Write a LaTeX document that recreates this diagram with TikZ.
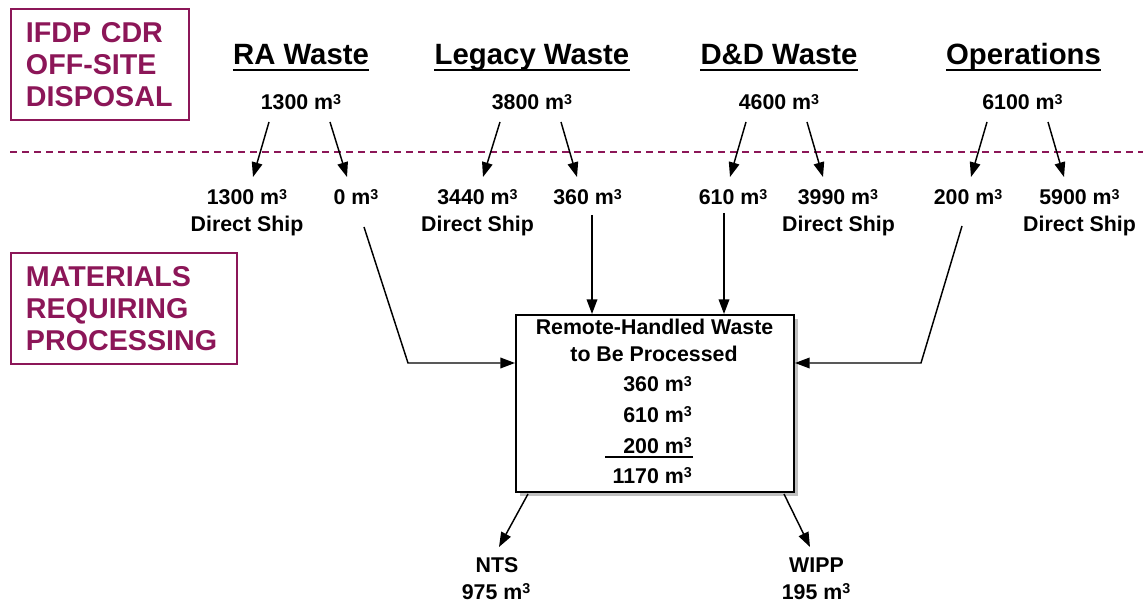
\documentclass[tikz,border=0pt]{standalone}
\usepackage{fontspec}
\setmainfont{Liberation Sans}
\usetikzlibrary{arrows.meta,calc,shadows}
\definecolor{maroon}{RGB}{140,22,88}
\definecolor{shadowgray}{RGB}{192,192,192}
\newcommand{\cubm}{m\raisebox{4pt}{\fontsize{10.7pt}{10.7pt}\selectfont 3}}
\begin{document}
\begin{tikzpicture}[x=0.75pt,y=-0.75pt,
  lbl/.style={inner sep=0pt, anchor=base, font=\fontsize{16pt}{19pt}\selectfont\bfseries},
  hdr/.style={inner sep=0pt, anchor=base, font=\fontsize{22pt}{26pt}\selectfont\bfseries},
  tagbox/.style={draw=maroon, line width=1.5pt, text=maroon, anchor=north west, align=left,
    inner xsep=11.25pt, inner ysep=0pt, minimum height=83.25pt,
    font=\fontsize{21.5pt}{24pt}\selectfont\bfseries},
  arr/.style={line width=1.1pt, -{Triangle[length=11pt,width=8pt]}},
  uline/.style={line width=2pt},
  procbox/.style={draw, line width=1.5pt, fill=white, anchor=north west, inner sep=0pt,
    minimum width=208.5pt, minimum height=132.75pt,
    drop shadow={shadow xshift=3pt, shadow yshift=-3pt, fill=shadowgray, opacity=1}},
  sep/.style={draw=maroon, line width=0.9pt, dash pattern=on 5pt off 4pt},
]
\useasboundingbox (0,0) rectangle (1143,602);

% tag boxes
\node[tagbox, text width=111pt] (t1) at (10,8) {IFDP CDR\\OFF-SITE\\DISPOSAL};
\node[tagbox, text width=147pt] (t2) at (10,252) {MATERIALS\\REQUIRING\\PROCESSING};

% separator
\coordinate (sepL) at (10,152);
\coordinate (sepR) at (1143,152);
\draw[sep] (sepL) -- (sepR);

% headers
\node[hdr] (h1) at (301,65) {RA Waste};
\node[hdr] (h2) at (532,65) {Legacy Waste};
\node[hdr] (h3) at (779,65) {D\&D Waste};
\node[hdr] (h4) at (1023.5,65) {Operations};
\foreach \h in {h1,h2,h3,h4}{
  \draw[uline] ($(\h.base west)+(0,5)$) -- ($(\h.base east)+(0,5)$);
}

% top amounts
\node[lbl] (q1) at (301,110) {1300 \cubm};
\node[lbl] (q2) at (532,110) {3800 \cubm};
\node[lbl] (q3) at (779,110) {4600 \cubm};
\node[lbl] (q4) at (1022.5,110) {6100 \cubm};

% split amounts
\node[lbl] (a1) at (247,205) {1300 \cubm};
\node[lbl] (a1d) at (247,232) {Direct Ship};
\node[lbl] (a2) at (356,205) {0 \cubm};
\node[lbl] (b1) at (477.5,205) {3440 \cubm};
\node[lbl] (b1d) at (477.5,232) {Direct Ship};
\node[lbl] (b2) at (587.5,205) {360 \cubm};
\node[lbl] (c1) at (733,205) {610 \cubm};
\node[lbl] (c2) at (838,205) {3990 \cubm};
\node[lbl] (c2d) at (838.5,232) {Direct Ship};
\node[lbl] (d1) at (968,205) {200 \cubm};
\node[lbl] (d2) at (1079.5,205) {5900 \cubm};
\node[lbl] (d2d) at (1079.5,232) {Direct Ship};

% split arrows
\draw[arr] ($(q1.base)+(-32,12)$) -- ($(a1.base)+(6,-28)$);
\draw[arr] ($(q1.base)+(29,12)$) -- ($(a2.base)+(-9,-28)$);
\draw[arr] ($(q2.base)+(-32,12)$) -- ($(b1.base)+(5.5,-28)$);
\draw[arr] ($(q2.base)+(29,12)$) -- ($(b2.base)+(-10.5,-28)$);
\draw[arr] ($(q3.base)+(-33,12)$) -- ($(c1.base)+(-3,-28)$);
\draw[arr] ($(q3.base)+(28,12)$) -- ($(c2.base)+(-15,-28)$);
\draw[arr] ($(q4.base)+(-35.5,12)$) -- ($(d1.base)+(3,-28)$);
\draw[arr] ($(q4.base)+(25.5,12)$) -- ($(d2.base)+(-15.5,-28)$);

% processing box
\node[procbox] (box) at (515,314) {};
\node[lbl] (r1) at (654.5,335) {Remote-Handled Waste};
\node[lbl] (r2) at (654,362) {to Be Processed};
\node[lbl, anchor=base east] (r3) at (692,392) {360 \cubm};
\node[lbl, anchor=base east] (r4) at (692,422) {610 \cubm};
\node[lbl, anchor=base east] (r5) at (692,453) {200 \cubm};
\node[lbl, anchor=base east] (r6) at (692,483) {1170 \cubm};
\draw[line width=1.2pt] ($(r5.base east)+(1,4)$) -- ($(r5.base east)+(-87,4)$);

% connectors into box
\draw[arr] ($(a2.base)+(8,22)$) -- ($(box.north west)+(-107,49)$) -- ($(box.north west)+(0,49)$);
\draw[arr] ($(d1.base)+(-6,21)$) -- ($(box.north east)+(126,49)$) -- ($(box.north east)+(0,49)$);
\coordinate (s360) at ($(b2.base)+(4.5,10)$);
\coordinate (s610) at ($(c1.base)+(-9,8)$);
\draw[arr] (s360) -- (s360 |- box.north);
\draw[arr] (s610) -- (s610 |- box.north);

% outputs
\node[lbl] (n1) at (497,572) {NTS};
\node[lbl] (n1q) at (496,599) {975 \cubm};
\node[lbl] (w1) at (816.5,572) {WIPP};
\node[lbl] (w1q) at (816,599) {195 \cubm};
\draw[arr] ($(box.south west)+(13,1)$) -- ($(n1.base)+(2,-25)$);
\draw[arr] ($(box.south east)+(-11,1)$) -- ($(w1.base)+(-6.5,-25)$);
\end{tikzpicture}
\end{document}
